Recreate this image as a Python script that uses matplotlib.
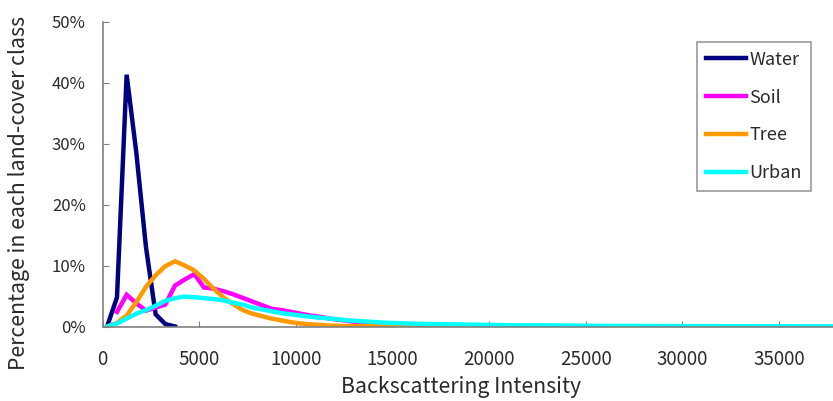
import numpy as np
import matplotlib
matplotlib.use("Agg")
import matplotlib.pyplot as plt
from matplotlib.ticker import FuncFormatter

plt.rcParams["font.family"] = ["Noto Sans CJK JP", "DejaVu Sans"]

# bin centres (500 wide bins)
water_x = [250, 750, 1250, 1750, 2250, 2750, 3250, 3750]
water_y = [0.1, 4.8, 41.3, 28.5, 13.0, 2.0, 0.4, 0.0]

soil_x = [750, 1250, 1750, 2250, 2750, 3250, 3750, 4250, 4750, 5250, 5750,
          6250, 6750, 7250, 7750, 8250, 8750, 9250, 9750, 10250, 10750,
          11250, 11750, 12250, 12750, 13250, 13750, 14250, 14750, 15250,
          15750, 16250, 16750, 17250, 17750, 18250, 18750, 19250, 19750]
soil_y = [2.4, 5.2, 3.8, 2.6, 3.1, 3.6, 6.7, 7.7, 8.6, 6.4, 6.2,
          5.8, 5.3, 4.7, 4.1, 3.5, 2.9, 2.7, 2.4, 2.1, 1.8,
          1.6, 1.3, 1.1, 0.9, 0.7, 0.55, 0.45, 0.4, 0.35,
          0.3, 0.25, 0.2, 0.2, 0.15, 0.15, 0.1, 0.1, 0.1]

tree_x = [250, 750, 1250, 1750, 2250, 2750, 3250, 3750, 4250, 4750, 5250,
          5750, 6250, 6750, 7250, 7750, 8250, 8750, 9250, 9750, 10250,
          10750, 11250, 11750, 12250, 12750, 13250, 14250, 15250, 16250,
          17250, 18250, 19250, 19750]
tree_y = [0.0, 0.6, 1.8, 4.0, 6.5, 8.4, 9.9, 10.7, 10.0, 9.2, 7.8,
          6.2, 4.8, 3.7, 2.7, 2.1, 1.7, 1.3, 1.0, 0.7, 0.5,
          0.35, 0.25, 0.15, 0.1, 0.08, 0.05, 0.04, 0.03, 0.02,
          0.02, 0.01, 0.01, 0.0]

urban_x = [250, 750, 1250, 1750, 2250, 2750, 3250, 3750, 4250, 4750, 5250,
           5750, 6250, 6750, 7250, 7750, 8250, 8750, 9250, 9750, 10250,
           10750, 11250, 11750, 12250, 12750, 13250, 13750, 14250, 14750,
           15250, 16250, 17250, 18250, 19250, 20250, 21250, 22250, 23250,
           24250, 25250, 26250, 27250, 28250, 29250, 30250, 31250, 32250,
           33250, 34250, 35250, 36250, 37250, 37750]
urban_y = [0.0, 0.5, 1.3, 2.1, 2.7, 3.4, 4.2, 4.65, 4.9, 4.8, 4.65,
           4.5, 4.3, 3.9, 3.6, 3.1, 2.8, 2.5, 2.2, 2.0, 1.8,
           1.6, 1.45, 1.3, 1.15, 1.0, 0.9, 0.8, 0.7, 0.6,
           0.55, 0.45, 0.4, 0.35, 0.3, 0.25, 0.2, 0.2, 0.18,
           0.15, 0.12, 0.1, 0.1, 0.08, 0.08, 0.06, 0.06, 0.05,
           0.05, 0.04, 0.04, 0.03, 0.03, 0.03]

series = [("Water", water_x, water_y, "#000080"),
          ("Soil", soil_x, soil_y, "#ff00ff"),
          ("Tree", tree_x, tree_y, "#ff9900"),
          ("Urban", urban_x, urban_y, "#00ffff")]

txt = "#2a2a2a"
fig = plt.figure(figsize=(8.33, 4.01), dpi=100)
ax = fig.add_axes([102.5/833, 1-326.5/401, 1-102.5/833, 304.8/401])

for name, xs, ys, c in series:
    ax.plot(xs, ys, color=c, linewidth=3.2, label=name, solid_joinstyle="miter")

ax.set_xlim(0, 37800)
ax.set_ylim(0, 50)
ax.set_xticks(np.arange(0, 35001, 5000))
ax.set_yticks(np.arange(0, 51, 10))
ax.yaxis.set_major_formatter(FuncFormatter(lambda v, p: f"{int(v)}%"))
ax.tick_params(direction="in", length=4, color="#808080", labelcolor=txt)
ax.tick_params(axis="x", labelsize=13.5, pad=16)
ax.tick_params(axis="y", labelsize=12, pad=12)
for s in ["top", "right"]:
    ax.spines[s].set_visible(False)
for s in ["left", "bottom"]:
    ax.spines[s].set_color("#808080")
    ax.spines[s].set_linewidth(1.2)

ax.set_xlabel("Backscattering Intensity", fontsize=15.3, color=txt)
ax.xaxis.set_label_coords(0.491, -0.199)
ax.xaxis.label.set_va("center")
ax.set_ylabel("Percentage in each land-cover class", fontsize=15.3, color=txt)
ax.yaxis.set_label_coords(-0.1143, 0.438)
ax.yaxis.label.set_va("center")

leg = ax.legend(loc="upper right", bbox_to_anchor=(810.7/833, 1-41.7/401),
                bbox_transform=fig.transFigure, fontsize=13, frameon=True,
                fancybox=False, handlelength=2.2, handletextpad=0.2,
                labelspacing=1.1, borderpad=0.5, borderaxespad=0)
leg.get_frame().set_edgecolor("#808080")
leg.get_frame().set_linewidth(1.2)
for t in leg.get_texts():
    t.set_color(txt)

fig.savefig("out.png", dpi=100)
